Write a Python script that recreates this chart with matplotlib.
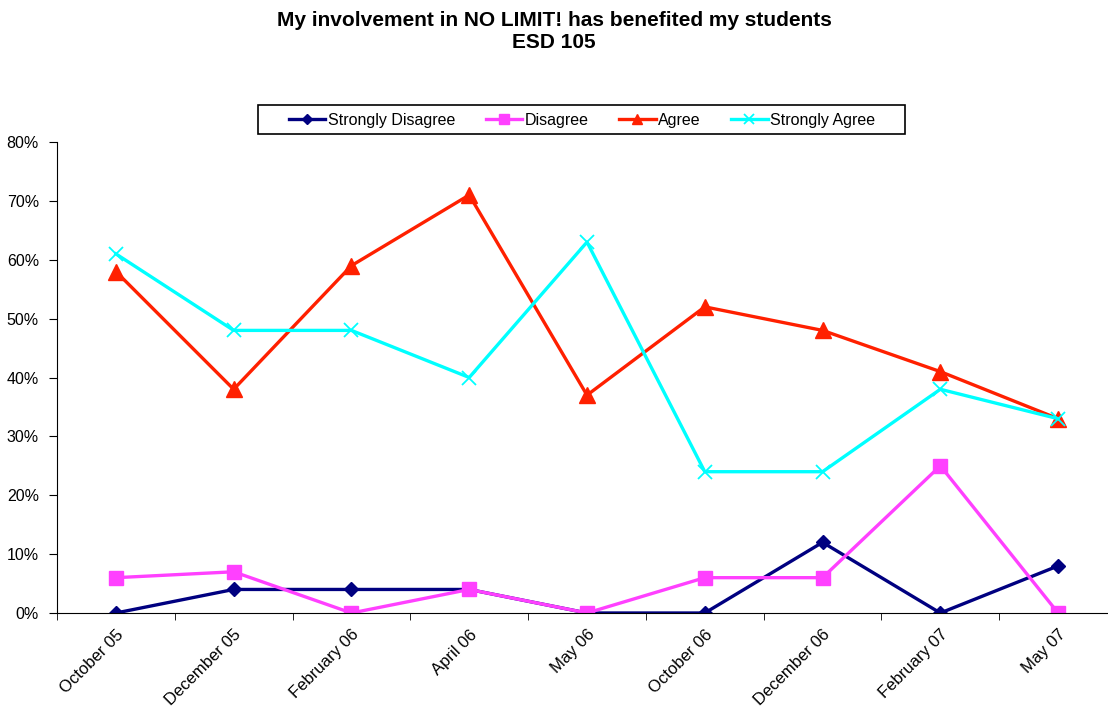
import matplotlib
matplotlib.use("Agg")
import matplotlib.pyplot as plt
from matplotlib.patches import Rectangle
from matplotlib.ticker import FuncFormatter

plt.rcParams['font.family'] = ['Liberation Sans', 'DejaVu Sans']

dates = ['October 05', 'December 05', 'February 06', 'April 06', 'May 06',
         'October 06', 'December 06', 'February 07', 'May 07']
strongly_disagree = [0, 4, 4, 4, 0, 0, 12, 0, 8]
disagree = [6, 7, 0, 4, 0, 6, 6, 25, 0]
agree = [58, 38, 59, 71, 37, 52, 48, 41, 33]
strongly_agree = [61, 48, 48, 40, 63, 24, 24, 38, 33]

W, H = 1108, 715
fig = plt.figure(figsize=(W / 100, H / 100), dpi=100)
ax = fig.add_axes([57 / W, 102 / H, 1060 / W, 471 / H])

x = range(len(dates))
ax.plot(x, strongly_disagree, color='#000080', lw=2.4, marker='D', ms=7,
        label='Strongly Disagree')
ax.plot(x, disagree, color='#FF40FF', lw=2.4, marker='s', ms=10,
        label='Disagree')
ax.plot(x, agree, color='#FF2000', lw=2.4, marker='^', ms=11,
        label='Agree')
ax.plot(x, strongly_agree, color='#00FFFF', lw=2.4, marker='x', ms=10,
        mew=1.3, label='Strongly Agree')

ax.set_ylim(0, 80)
ax.set_xlim(-0.5, len(dates) - 0.5)
ax.set_yticks(range(0, 81, 10))
ax.yaxis.set_major_formatter(FuncFormatter(lambda v, p: '%d%%' % v))
ax.set_xticks(list(x))
ax.set_xticklabels(dates, rotation=45, ha='right', rotation_mode='anchor')
ax.set_xticks([i + 0.5 for i in range(-1, len(dates))], minor=True)
ax.tick_params(axis='x', which='major', length=0, pad=10, labelsize=12)
ax.tick_params(axis='x', which='minor', length=5, direction='out')
ax.tick_params(axis='y', length=6, direction='out', labelsize=11.5, pad=7)
for s in ['top', 'right']:
    ax.spines[s].set_visible(False)

fig.suptitle('My involvement in NO LIMIT! has benefited my students\nESD 105',
             fontsize=15, fontweight='bold', y=0.985, linespacing=1.2)

leg = ax.legend(loc='center', bbox_to_anchor=(582 / W, 1 - 120 / H),
                bbox_transform=fig.transFigure, ncol=4, fontsize=11.5,
                frameon=False, handlelength=2.3, columnspacing=1.9,
                handletextpad=0.15, markerscale=0.7)
fig.patches.append(Rectangle((258 / W, 1 - 134 / H), 647 / W, 29 / H,
                             transform=fig.transFigure, fill=False,
                             edgecolor='black', lw=1.2))

fig.savefig('out.png', dpi=100)
